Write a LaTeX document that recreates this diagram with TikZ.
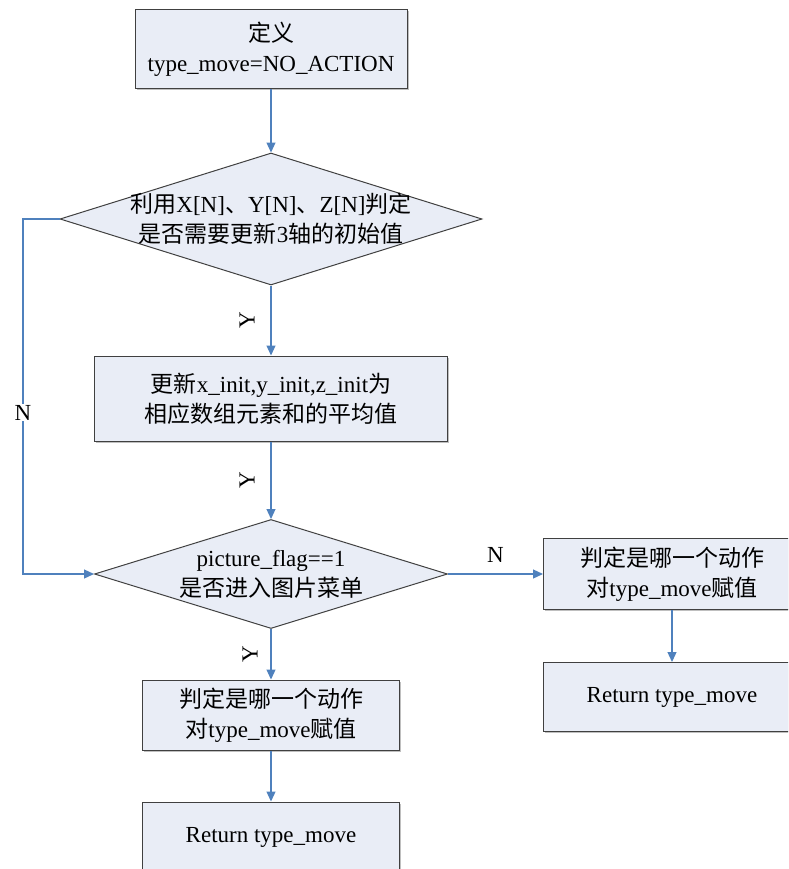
\documentclass[tikz,border=0pt]{standalone}
\usepackage{fontspec}
\setmainfont{Liberation Serif}
\newfontfamily\cjk{Noto Sans CJK SC}
\usetikzlibrary{arrows.meta,positioning,shapes.geometric,shadows}
\definecolor{boxfill}{RGB}{233,237,246}
\definecolor{boxline}{RGB}{64,64,64}
\definecolor{flowline}{RGB}{79,129,189}

\begin{document}
\begin{tikzpicture}
[x=1pt,y=-1pt,>={Triangle[length=10pt,width=9pt]},font=\fontsize{23}{30}\selectfont]
\tikzstyle{proc}=[rectangle, draw=boxline, line width=1pt, fill=boxfill, drop shadow={shadow xshift=1.5pt,shadow yshift=-1.5pt,fill=black!50}, minimum width=257pt, minimum height=70pt, align=center, inner sep=0pt]
\tikzstyle{decision}=[diamond, draw=boxline, line width=1pt, fill=boxfill, minimum width=422pt, minimum height=132pt, inner sep=0pt]
\tikzstyle{flow}=[->, draw=flowline, line width=1.2pt]
\tikzstyle{lbl}=[inner sep=1pt, text=black]

\useasboundingbox (0,0) rectangle (788,869);
\clip (0,0) rectangle (788,869);

\node[proc, minimum width=272pt, minimum height=79pt] (def) at (271,49.5) {{\cjk 定义}\\type\_move=NO\_ACTION};
\node[decision] (chk) [below of = def, node distance = 169.5pt] {};
\node[align=center] (chk_txt) at (chk) {{\cjk 利用}X[N]{\cjk 、}Y[N]{\cjk 、}Z[N]{\cjk 判定}\\{\cjk 是否需要更新}3{\cjk 轴的初始值}};
\node[proc, minimum width=353pt, minimum height=85pt] (upd) [below of = chk, node distance = 179.5pt] {{\cjk 更新}x\_init,y\_init,z\_init{\cjk 为}\\{\cjk 相应数组元素和的平均值}};
\node[decision, minimum width=353pt, minimum height=109pt] (flag) [below of = upd, node distance = 175.5pt] {};
\node[align=center] (flag_txt) at (flag) {picture\_flag==1\\{\cjk 是否进入图片菜单}};
\node[proc] (act_l) [below of = flag, node distance = 141pt] {{\cjk 判定是哪一个动作}\\{\cjk 对}type\_move{\cjk 赋值}};
\node[proc] (ret_l) [below of = act_l, node distance = 122pt] {Return type\_move};
\node[proc, minimum height=71pt] (act_r) [right of = flag, node distance = 401pt] {{\cjk 判定是哪一个动作}\\{\cjk 对}type\_move{\cjk 赋值}};
\node[proc, minimum height=69pt] (ret_r) [below of = act_r, node distance = 123pt] {Return type\_move};
\coordinate (bend_top) at (23,219);
\coordinate (bend_bot) at (23,574);

\path[flow, color=flowline]
			(def) 	edge (chk)
			(chk) 	edge node [lbl, xshift=-24pt, rotate=90] {Y} (upd)
			(upd) 	edge node [lbl, xshift=-24pt, rotate=90] {Y} (flag)
			(flag) 	edge node [lbl, xshift=-21pt, rotate=90] {Y} (act_l)
			(act_l) edge (ret_l)
			(flag) 	edge node [lbl, above=10pt] {N} (act_r)
			(act_r) edge (ret_r)
			;
\draw[flow, color=flowline] (chk.west) -- (bend_top) -- node [lbl, fill=white, pos=0.546] {N} (bend_bot) -- (flag.west);
\end{tikzpicture}
\end{document}
